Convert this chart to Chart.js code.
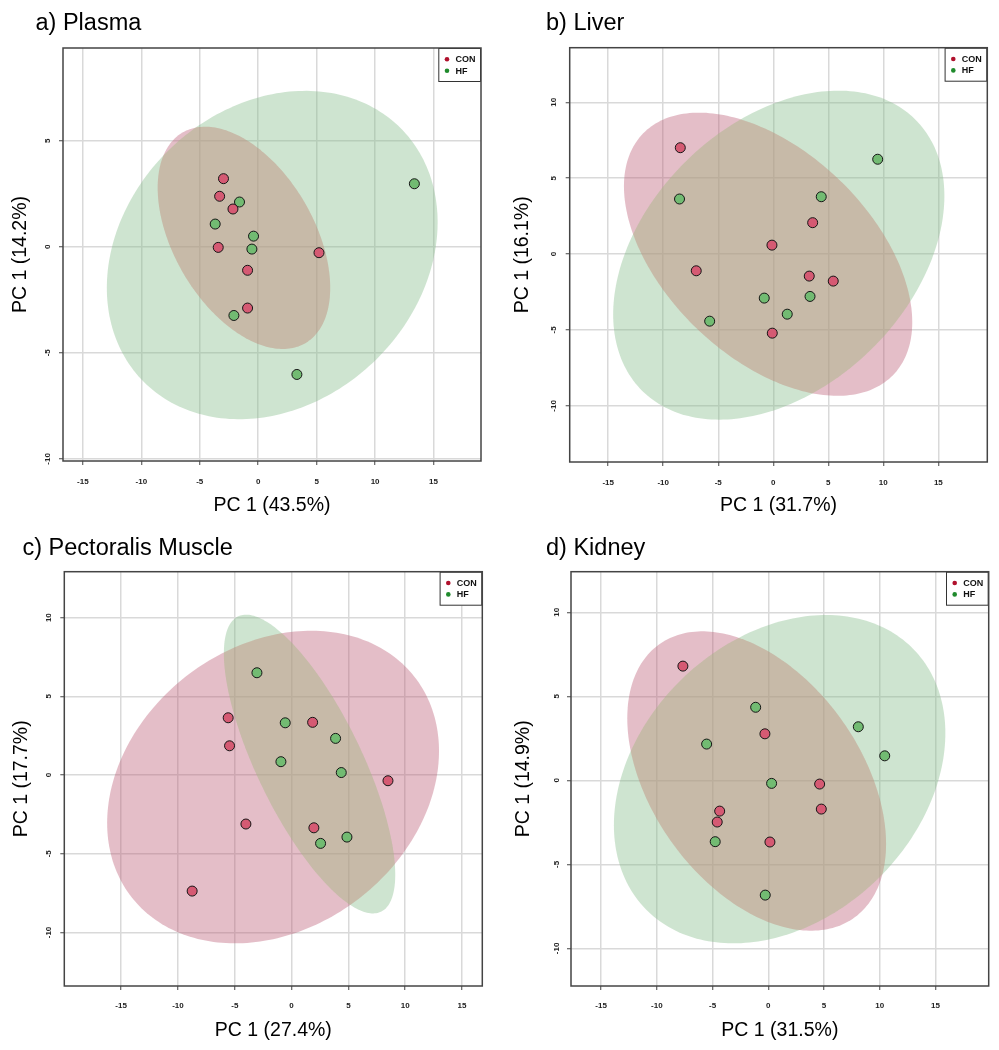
<!DOCTYPE html>
<html><head><meta charset="utf-8">
<script src="https://cdn.jsdelivr.net/npm/chart.js@4.4.1/dist/chart.umd.min.js"></script>
<style>
html,body{margin:0;padding:0;background:#fff;}
#wrap{position:relative;width:999px;height:1050px;background:#fff;}
canvas{position:absolute;display:block;}
</style></head><body>
<div id="wrap">
<canvas id="pA" width="500" height="525" style="left:0;top:0"></canvas>
<canvas id="pB" width="499" height="525" style="left:500px;top:0"></canvas>
<canvas id="pC" width="500" height="525" style="left:0;top:525px"></canvas>
<canvas id="pD" width="499" height="525" style="left:500px;top:525px"></canvas>
</div>
<script>
// ---------- data ----------
const groups = ['CON', 'HF'];
const panelTitles = ['a) Plasma', 'b) Liver', 'c) Pectoralis Muscle', 'd) Kidney'];
const xTitles = ['PC 1 (43.5%)', 'PC 1 (31.7%)', 'PC 1 (27.4%)', 'PC 1 (31.5%)'];
const yTitles = ['PC 1 (14.2%)', 'PC 1 (16.1%)', 'PC 1 (17.7%)', 'PC 1 (14.9%)'];
const xTickValues = [-15, -10, -5, 0, 5, 10, 15];
const yTickValuesPlasma = [-10, -5, 0, 5];
const yTickValuesOther = [-10, -5, 0, 5, 10];

// scores [PC1, PC2]
const plasmaCON = [[-2.97,3.21],[-3.3,2.38],[-2.16,1.78],[-3.42,-0.03],[5.2,-0.28],[-0.91,-1.11],[-0.91,-2.89]];
const plasmaHF  = [[-1.6,2.11],[-3.68,1.07],[-0.4,0.5],[-0.54,-0.11],[13.36,2.97],[-2.08,-3.24],[3.31,-6.02]];
const liverCON  = [[-8.45,7.01],[3.58,2.07],[-0.12,0.59],[-7.0,-1.1],[3.27,-1.45],[5.45,-1.78],[-0.09,-5.21]];
const liverHF   = [[-8.52,3.63],[4.36,3.78],[9.49,6.25],[-0.82,-2.9],[3.34,-2.79],[1.27,-3.96],[-5.78,-4.42]];
const muscleCON = [[-5.58,3.64],[-5.46,1.86],[1.85,3.35],[8.48,-0.36],[-4.02,-3.11],[1.96,-3.35],[-8.75,-7.37]];
const muscleHF  = [[-3.05,6.5],[-0.56,3.32],[3.87,2.33],[-0.94,0.85],[4.37,0.16],[4.87,-3.94],[2.55,-4.34]];
const kidneyCON = [[-7.66,6.8],[-0.3,2.77],[4.61,-0.22],[4.76,-1.71],[-4.36,-1.83],[-4.58,-2.48],[0.15,-3.67]];
const kidneyHF  = [[-1.13,4.35],[-5.53,2.16],[8.08,3.19],[10.45,1.46],[0.3,-0.18],[-4.76,-3.65],[-0.27,-6.83]];

// confidence ellipses [centerX, centerY, halfWidthX, halfHeightY, correlation]
const plasmaEllipseCON = [-1.22, 0.42, 7.38, 5.24, -0.45];
const plasmaEllipseHF  = [1.2, -0.39, 14.15, 7.74, 0.2];
const liverEllipseCON  = [-0.47, -0.01, 13.1, 9.33, -0.48];
const liverEllipseHF   = [0.5, -0.07, 15.05, 10.84, 0.36];
const muscleEllipseCON = [-1.63, -0.76, 14.6, 9.93, 0.23];
const muscleEllipseHF  = [1.58, 0.7, 7.54, 9.49, -0.74];
const kidneyEllipseCON = [-1.04, -0.04, 11.61, 8.91, -0.42];
const kidneyEllipseHF  = [1.02, 0.07, 14.87, 9.77, 0.28];

// axis limits
const xLimits = [[-16.7, 19.06], [-18.5, 19.45], [-20.0, 16.78], [-17.7, 19.78]];
const yLimits = [[-10.1, 9.37], [-13.7, 13.6], [-13.4, 12.92], [-12.24, 12.42]];

// ---------- styling ----------
const FONT = '"Liberation Sans", Arial, Helvetica, sans-serif';
const PT_FILL = ['#d55a73', '#72bb72'];
const PT_EDGE = '#151515';
const ELL_FILL = ['rgba(187,92,117,0.4)', 'rgba(132,188,138,0.4)'];
const OVERLAP_TINT = 'rgba(255,170,130,0.14)';
const LEG_DOT = ['#b0102c', '#1f8a2c'];
const GRID = '#d9d9d9';

const layouts = [
  {id:'pA', w:500, h:525, area:{left:63, right:481, top:48, bottom:461}, tx:35.5, ty:30, ylab:15, ytitle:20.5, xlab:11.7},
  {id:'pB', w:499, h:525, area:{left:69.7, right:487.3, top:47.7, bottom:462}, tx:46, ty:30, ylab:16.4, ytitle:23, xlab:11.7},
  {id:'pC', w:500, h:525, area:{left:64.3, right:482.3, top:46.7, bottom:461}, tx:22.5, ty:29.5, ylab:16, ytitle:22, xlab:10.7},
  {id:'pD', w:499, h:525, area:{left:71, right:488.7, top:46.7, bottom:461}, tx:46, ty:29.5, ylab:14.3, ytitle:24, xlab:10.7}
];

const panelData = [
  {con:plasmaCON, hf:plasmaHF, ell:[plasmaEllipseCON, plasmaEllipseHF], yt:yTickValuesPlasma},
  {con:liverCON, hf:liverHF, ell:[liverEllipseCON, liverEllipseHF], yt:yTickValuesOther},
  {con:muscleCON, hf:muscleHF, ell:[muscleEllipseCON, muscleEllipseHF], yt:yTickValuesOther},
  {con:kidneyCON, hf:kidneyHF, ell:[kidneyEllipseCON, kidneyEllipseHF], yt:yTickValuesOther}
];

function ellipsePath(e, x, y) {
  const [cx, cy, rx, ry, rho] = e;
  const phi = Math.acos(rho);
  const p = new Path2D();
  const N = 240;
  for (let i = 0; i <= N; i++) {
    const t = 2 * Math.PI * i / N;
    const px = x.getPixelForValue(cx + rx * Math.cos(t));
    const py = y.getPixelForValue(cy + ry * Math.cos(t - phi));
    if (i === 0) p.moveTo(px, py); else p.lineTo(px, py);
  }
  p.closePath();
  return p;
}

const ellipsePlugin = {
  id: 'ellipses',
  beforeDatasetsDraw(chart, args, opts) {
    const {ctx, chartArea: a, scales: {x, y}} = chart;
    ctx.save();
    ctx.beginPath(); ctx.rect(a.left, a.top, a.right - a.left, a.bottom - a.top); ctx.clip();
    const paths = opts.ellipses.map(e => ellipsePath(e, x, y));
    paths.forEach((p, gi) => { ctx.fillStyle = ELL_FILL[gi]; ctx.fill(p); });
    // warm tint where the two regions overlap
    ctx.clip(paths[0]);
    ctx.fillStyle = OVERLAP_TINT;
    ctx.fill(paths[1]);
    ctx.restore();
  }
};

const framePlugin = {
  id: 'frame',
  afterDraw(chart, args, opts) {
    const {ctx, chartArea: a} = chart;
    ctx.save();
    // legend box
    const lw = 42.7, lh = 34;
    ctx.fillStyle = '#fff';
    ctx.fillRect(a.right - lw, a.top, lw, lh);
    ctx.strokeStyle = '#333'; ctx.lineWidth = 1;
    ctx.strokeRect(a.right - lw + 0.5, a.top + 0.5, lw - 1, lh - 1);
    ctx.font = 'bold 9px ' + FONT;
    ctx.textBaseline = 'middle'; ctx.textAlign = 'left';
    groups.forEach((g, i) => {
      const yy = a.top + 11.3 + i * 11.4;
      ctx.fillStyle = LEG_DOT[i];
      ctx.beginPath(); ctx.arc(a.right - 34, yy, 2.3, 0, 2 * Math.PI); ctx.fill();
      ctx.fillStyle = '#111';
      ctx.fillText(g, a.right - 25.5, yy + 0.5);
    });
    // plot frame
    ctx.strokeStyle = '#444'; ctx.lineWidth = 1.5;
    ctx.strokeRect(a.left, a.top, a.right - a.left, a.bottom - a.top);
    // panel title
    ctx.fillStyle = '#000';
    ctx.font = '23.5px ' + FONT;
    ctx.textBaseline = 'alphabetic'; ctx.textAlign = 'left';
    ctx.fillText(opts.title, opts.tx, opts.ty);
    ctx.restore();
  }
};

function makePanel(i) {
  const L = layouts[i], P = panelData[i];
  const toPts = arr => arr.map(([px, py]) => ({x: px, y: py}));
  const ds = (label, arr, gi) => ({
    label, data: toPts(arr), backgroundColor: PT_FILL[gi], borderColor: PT_EDGE,
    borderWidth: 1, pointRadius: 5, pointHoverRadius: 5, showLine: false
  });
  new Chart(document.getElementById(L.id), {
    type: 'scatter',
    data: {datasets: [ds(groups[0], P.con, 0), ds(groups[1], P.hf, 1)]},
    options: {
      responsive: false, animation: false, devicePixelRatio: 1,
      events: [],
      layout: {padding: {top: L.area.top, right: L.w - L.area.right, left: 0, bottom: 0}},
      plugins: {
        legend: {display: false}, tooltip: {enabled: false}, title: {display: false},
        ellipses: {ellipses: P.ell},
        frame: {title: panelTitles[i], tx: L.tx, ty: L.ty}
      },
      scales: {
        x: {
          type: 'linear', position: 'bottom', min: xLimits[i][0], max: xLimits[i][1],
          afterBuildTicks: s => { s.ticks = xTickValues.map(v => ({value: v})); },
          afterFit: s => { s.height = L.h - L.area.bottom; },
          grid: {color: GRID, lineWidth: 1.5, drawTicks: true, tickLength: 4, tickColor: '#444', tickWidth: 1},
          border: {display: false},
          ticks: {font: {family: FONT, size: 8, weight: 'bold'}, color: '#222', padding: L.xlab, maxRotation: 0, minRotation: 0, autoSkip: false},
          title: {display: true, text: xTitles[i], color: '#000', font: {family: FONT, size: 19.5, lineHeight: 1.2}, padding: {top: 0, bottom: 7.3}}
        },
        y: {
          type: 'linear', position: 'left', min: yLimits[i][0], max: yLimits[i][1],
          afterBuildTicks: s => { s.ticks = P.yt.map(v => ({value: v})); },
          afterFit: s => { s.width = L.area.left; },
          grid: {color: GRID, lineWidth: 1.5, drawTicks: true, tickLength: 4, tickColor: '#444', tickWidth: 1},
          border: {display: false},
          ticks: {font: {family: FONT, size: 8, weight: 'bold'}, color: '#222', padding: L.ylab - 4 - 5.8, minRotation: 90, maxRotation: 90, crossAlign: 'center', autoSkip: false},
          title: {display: true, text: yTitles[i], color: '#000', font: {family: FONT, size: 19.5, lineHeight: 1.2}, padding: {top: L.ytitle - 11.7, bottom: 0}}
        }
      }
    },
    plugins: [ellipsePlugin, framePlugin]
  });
}
[0, 1, 2, 3].forEach(makePanel);
</script>
</body></html>
